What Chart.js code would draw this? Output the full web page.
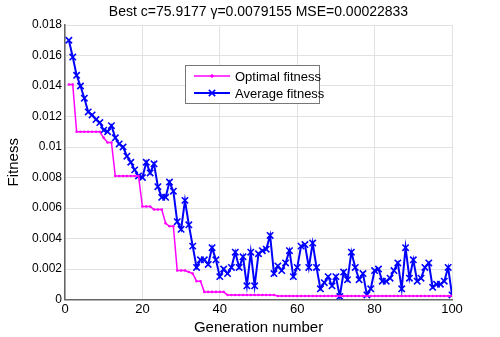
<!DOCTYPE html>
<html>
<head>
<meta charset="utf-8">
<script src="https://cdn.jsdelivr.net/npm/chart.js@4/dist/chart.umd.min.js"></script>
<style>
  html, body { margin: 0; padding: 0; background: #fff; }
  #wrap { width: 500px; height: 337px; }
</style>
</head>
<body>
<div id="wrap"><canvas id="chart" width="500" height="337"></canvas></div>
<script>
// --- data ---
const generations = Array.from({ length: 100 }, (_, i) => i + 1);

const optimalFitness = [
  0.0141, 0.0141, 0.0110, 0.0110, 0.0110, 0.0110, 0.0110, 0.0110, 0.0110, 0.0106,
  0.0103, 0.0103, 0.0081, 0.0081, 0.0081, 0.0081, 0.0081, 0.0081, 0.0081, 0.0061,
  0.0061, 0.0061, 0.0059, 0.0059, 0.0059, 0.0050, 0.0048, 0.0048, 0.0019, 0.0019,
  0.0019, 0.0018, 0.0017, 0.0012, 0.0012, 0.0005, 0.0005, 0.0005, 0.0005, 0.0005,
  0.0005, 0.0003, 0.0003, 0.0003, 0.0003, 0.0003, 0.0003, 0.0003, 0.0003, 0.0003,
  0.0003, 0.0003, 0.0003, 0.0003, 0.00022833, 0.00022833, 0.00022833, 0.00022833, 0.00022833, 0.00022833,
  0.00022833, 0.00022833, 0.00022833, 0.00022833, 0.00022833, 0.00022833, 0.00022833, 0.00022833, 0.00022833, 0.00022833,
  0.00022833, 0.00022833, 0.00022833, 0.00022833, 0.00022833, 0.00022833, 0.00022833, 0.00022833, 0.00022833, 0.00022833,
  0.00022833, 0.00022833, 0.00022833, 0.00022833, 0.00022833, 0.00022833, 0.00022833, 0.00022833, 0.00022833, 0.00022833,
  0.00022833, 0.00022833, 0.00022833, 0.00022833, 0.00022833, 0.00022833, 0.00022833, 0.00022833, 0.00022833, 0.00022833
];

const averageFitness = [
  0.0170, 0.0159, 0.0147, 0.0140, 0.0132, 0.0123, 0.0121, 0.0118, 0.0116, 0.0111,
  0.0110, 0.0114, 0.0106, 0.0102, 0.0100, 0.0094, 0.0090, 0.0085, 0.0081, 0.0080,
  0.0090, 0.0083, 0.0089, 0.0074, 0.0067, 0.0067, 0.0077, 0.0071, 0.0051, 0.0046,
  0.0065, 0.0049, 0.0035, 0.0021, 0.0026, 0.0026, 0.0023, 0.0034, 0.0026, 0.0015,
  0.0020, 0.0017, 0.0021, 0.0031, 0.0021, 0.0028, 0.0009, 0.0031, 0.0009, 0.0030,
  0.0032, 0.0033, 0.0042, 0.0017, 0.0022, 0.0019, 0.0024, 0.0032, 0.0015, 0.0021,
  0.0035, 0.0036, 0.0021, 0.0037, 0.0021, 0.0007, 0.0011, 0.0015, 0.0009, 0.0015,
  0.0002, 0.0018, 0.0013, 0.0031, 0.0021, 0.0013, 0.0017, 0.0003, 0.0007, 0.0019,
  0.0020, 0.0012, 0.0012, 0.0014, 0.0019, 0.0024, 0.0007, 0.0034, 0.0014, 0.0026,
  0.0012, 0.0014, 0.0021, 0.0024, 0.0008, 0.0010, 0.0010, 0.0012, 0.0021, 0.0003
];

const xTicks = [0, 20, 40, 60, 80, 100];
const yTicks = [0, 0.002, 0.004, 0.006, 0.008, 0.01, 0.012, 0.014, 0.016, 0.018];

const chartTitle = 'Best c=75.9177 γ=0.0079155 MSE=0.00022833';

const FONT = '"Liberation Sans", Arial, sans-serif';

// title centred over the plot area, as matlab does
const plotTitle = {
  id: 'plotTitle',
  afterDraw(chart) {
    const ctx = chart.ctx;
    const a = chart.chartArea;
    ctx.save();
    ctx.font = '14px ' + FONT;
    ctx.fillStyle = '#000';
    ctx.textAlign = 'center';
    ctx.textBaseline = 'middle';
    ctx.fillText(chartTitle, (a.left + a.right) / 2, 12);
    ctx.restore();
  }
};

// legend drawn inside the plot, like matlab's
const boxLegend = {
  id: 'boxLegend',
  afterDraw(chart) {
    const ctx = chart.ctx;
    const x0 = 185, y0 = 65, w = 134, h = 38;
    ctx.save();
    ctx.fillStyle = '#fff';
    ctx.fillRect(x0, y0, w, h);
    ctx.strokeStyle = '#777';
    ctx.lineWidth = 1;
    ctx.strokeRect(x0 + 0.5, y0 + 0.5, w, h);
    ctx.font = '13px ' + FONT;
    ctx.textBaseline = 'middle';
    chart.data.datasets.forEach((ds, i) => {
      const cy = y0 + 11 + i * 17;
      ctx.strokeStyle = ds.borderColor;
      ctx.fillStyle = ds.borderColor;
      ctx.lineWidth = ds.borderWidth;
      ctx.beginPath();
      ctx.moveTo(x0 + 9, cy);
      ctx.lineTo(x0 + 45, cy);
      ctx.stroke();
      ctx.lineWidth = ds.pointBorderWidth || 1;
      Chart.helpers.drawPoint(ctx, {
        pointStyle: ds.pointStyle,
        radius: ds.pointRadius,
        borderWidth: ds.pointBorderWidth || 1
      }, x0 + 27, cy);
      ctx.fillStyle = '#000';
      ctx.fillText(ds.label, x0 + 50, cy + 1);
    });
    ctx.restore();
  }
};

new Chart(document.getElementById('chart'), {
  type: 'line',
  data: {
    datasets: [
      {
        label: 'Optimal fitness',
        data: generations.map((g, i) => ({ x: g, y: optimalFitness[i] })),
        borderColor: '#ff00ff',
        backgroundColor: '#ff00ff',
        borderWidth: 1.5,
        pointStyle: 'circle',
        pointRadius: 1.3,
        pointBorderWidth: 0,
        pointBackgroundColor: '#ff00ff',
        pointBorderColor: '#ff00ff',
        tension: 0
      },
      {
        label: 'Average fitness',
        data: generations.map((g, i) => ({ x: g, y: averageFitness[i] })),
        borderColor: '#0000ff',
        backgroundColor: '#0000ff',
        borderWidth: 2,
        pointStyle: 'crossRot',
        pointRadius: 4.5,
        pointBorderWidth: 1.6,
        pointBorderColor: '#0000ff',
        tension: 0
      }
    ]
  },
  options: {
    responsive: false,
    animation: false,
    devicePixelRatio: 1,
    layout: { padding: { left: 0, right: 48, top: 25, bottom: 0 } },
    plugins: {
      legend: { display: false },
      tooltip: { enabled: false },
      title: { display: false }
    },
    scales: {
      x: {
        type: 'linear',
        min: 0,
        max: 100,
        afterBuildTicks: (s) => { s.ticks = xTicks.map(v => ({ value: v })); },
        afterFit: (s) => { s.height = 37.5; },
        ticks: {
          color: '#000',
          font: { family: FONT, size: 13 },
          padding: 2,
          maxRotation: 0
        },
        grid: { color: '#e2e2e2', drawTicks: false },
        border: { color: '#666', width: 1.5 },
        title: {
          display: true,
          text: 'Generation number',
          color: '#000',
          font: { family: FONT, size: 15 },
          padding: { top: 1, bottom: 0 }
        }
      },
      y: {
        type: 'linear',
        min: 0,
        max: 0.018,
        afterBuildTicks: (s) => { s.ticks = yTicks.map(v => ({ value: v })); },
        afterFit: (s) => { s.width = 65; },
        ticks: {
          color: '#000',
          font: { family: FONT, size: 12 },
          padding: 3,
          callback: (v) => String(Number(v.toFixed(3)))
        },
        grid: { color: '#e2e2e2', drawTicks: false },
        border: { color: '#666', width: 1.5 },
        title: {
          display: true,
          text: 'Fitness',
          color: '#000',
          font: { family: FONT, size: 15 },
          padding: { top: 5, bottom: 0 }
        }
      }
    }
  },
  plugins: [plotTitle, boxLegend]
});
</script>
</body>
</html>
